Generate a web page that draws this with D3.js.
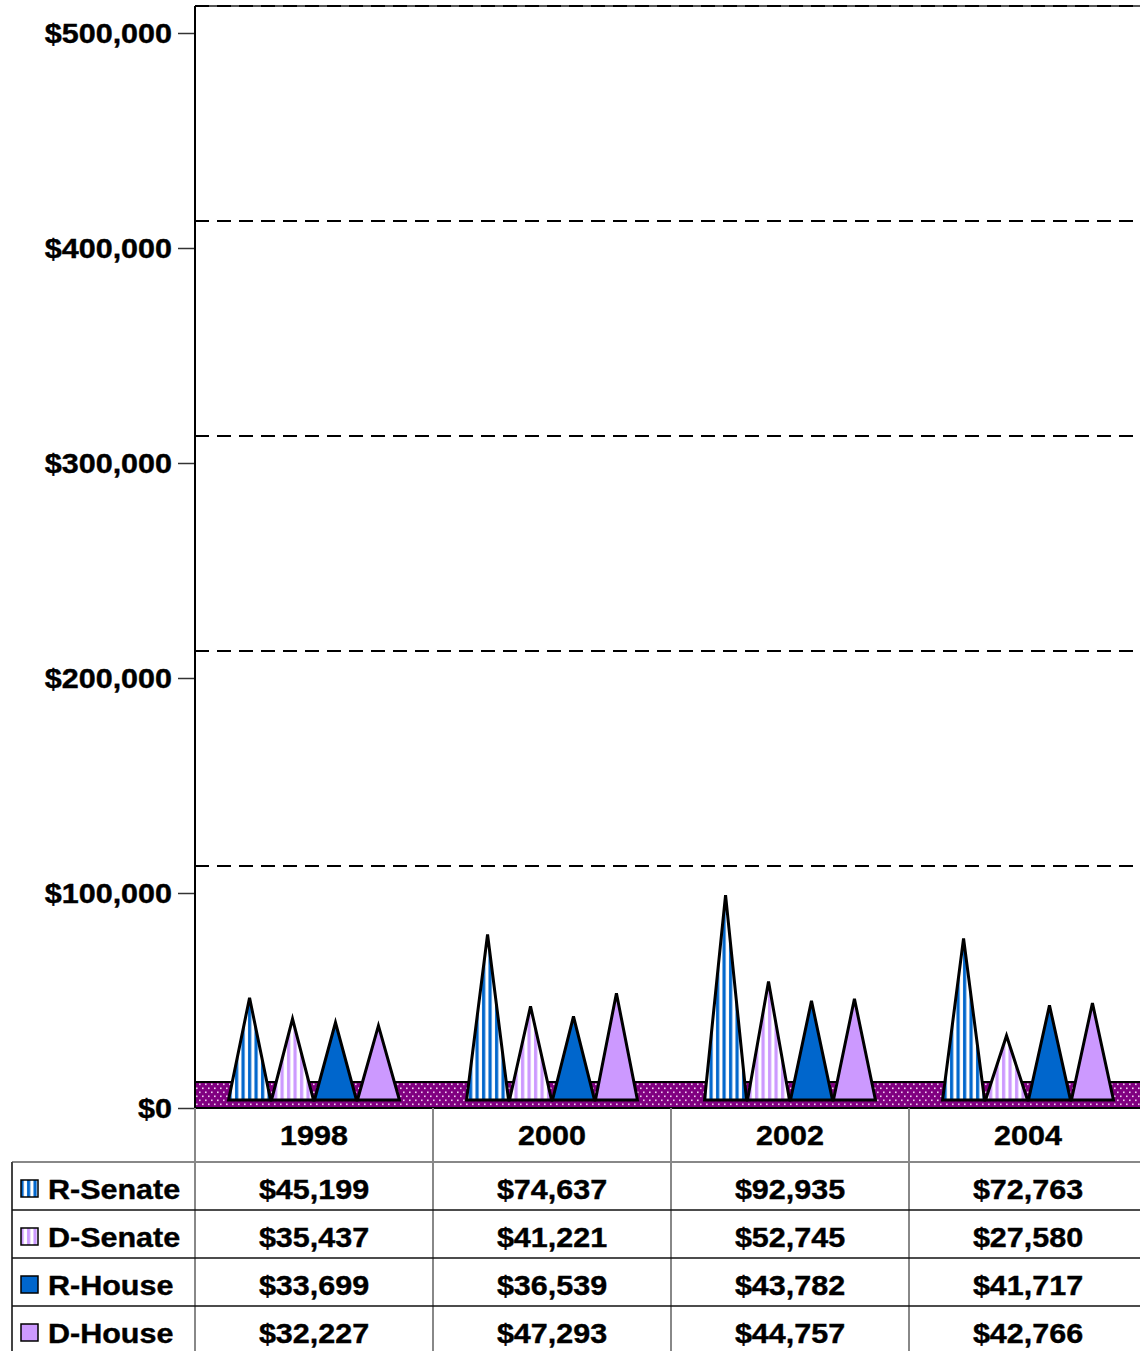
<!DOCTYPE html>
<html>
<head>
<meta charset="utf-8">
<script src="https://cdn.jsdelivr.net/npm/d3@7"></script>
<style>
  body { margin: 0; background: #fff; }
  text { font-family: "Liberation Sans", Arial, sans-serif; font-weight: bold; fill: #000; stroke: #000; stroke-width: 0.4px; }
</style>
</head>
<body>
<div id="chart"></div>
<script>
var years = ["1998", "2000", "2002", "2004"];
var seriesNames = ["R-Senate", "D-Senate", "R-House", "D-House"];
var rSenate = [45199, 74637, 92935, 72763];
var dSenate = [35437, 41221, 52745, 27580];
var rHouse = [33699, 36539, 43782, 41717];
var dHouse = [32227, 47293, 44757, 42766];
var yTicks = [0, 100000, 200000, 300000, 400000, 500000];

var seriesValues = [rSenate, dSenate, rHouse, dHouse];
var fills = ["url(#stripeBlue)", "url(#stripeLav)", "#0066cc", "#cc99ff"];

var width = 1140, height = 1351;
var plotLeft = 195, plotTop = 6;
var depth = 27; // 3d wall offset
var floorY = 1108;
var colW = 238;
var xScale = d3.scaleBand()
    .domain(years)
    .range([plotLeft, plotLeft + colW * years.length]);

var inner = d3.scaleBand()
    .domain(seriesNames)
    .range([0, colW])
    .paddingInner(0)
    .paddingOuter(0.77);

var yScale = d3.scaleLinear()
    .domain([0, 500000])
    .range([floorY, 33]);

var fmt = d3.format("$,");
var sx = 1.09; // text is a bit wider than normal

var svg = d3.select("#chart").append("svg")
    .attr("width", width)
    .attr("height", height);

var defs = svg.append("defs");

function stripes(id, color) {
  var p = defs.append("pattern")
      .attr("id", id)
      .attr("patternUnits", "userSpaceOnUse")
      .attr("width", 6.5)
      .attr("height", 10);
  p.append("rect").attr("width", 6.5).attr("height", 10).attr("fill", "#fff");
  p.append("rect").attr("x", 1).attr("width", 3.2).attr("height", 10).attr("fill", color);
}
stripes("stripeBlue", "#0066cc");
stripes("stripeLav", "#cc99ff");

var dots = defs.append("pattern")
    .attr("id", "floorDots")
    .attr("patternUnits", "userSpaceOnUse")
    .attr("width", 6)
    .attr("height", 8)
    .attr("y", 1082);
dots.append("rect").attr("width", 6).attr("height", 8).attr("fill", "#800080");
dots.append("rect").attr("x", 1).attr("y", 1.5).attr("width", 1.6).attr("height", 1.6).attr("fill", "#f0d0f0");
dots.append("rect").attr("x", 4).attr("y", 5.5).attr("width", 1.6).attr("height", 1.6).attr("fill", "#f0d0f0");

function addText(g, x, y, str, anchor) {
  return g.append("text")
      .attr("transform", "translate(" + x + "," + y + ") scale(" + sx + ",1)")
      .attr("text-anchor", anchor)
      .attr("dy", "0.36em")
      .style("font-size", "28px")
      .text(str);
}

// back wall gridlines
svg.append("line")
    .attr("x1", plotLeft).attr("x2", width)
    .attr("y1", plotTop).attr("y2", plotTop)
    .attr("stroke", "#555").attr("stroke-width", 2);
svg.selectAll(".grid")
    .data(yTicks.slice(1))
  .enter().append("line")
    .attr("class", "grid")
    .attr("x1", plotLeft).attr("x2", width)
    .attr("y1", function(d) { return yScale(d) - depth; })
    .attr("y2", function(d) { return yScale(d) - depth; })
    .attr("stroke", "#000")
    .attr("stroke-width", 2)
    .attr("stroke-dasharray", "14,8");

// floor
svg.append("rect")
    .attr("x", plotLeft + 1)
    .attr("y", floorY - depth + 1)
    .attr("width", width - plotLeft)
    .attr("height", depth - 1)
    .attr("fill", "url(#floorDots)");
svg.append("line")
    .attr("x1", plotLeft).attr("x2", width)
    .attr("y1", floorY - depth + 1).attr("y2", floorY - depth + 1)
    .attr("stroke", "#000").attr("stroke-width", 2);
svg.append("line")
    .attr("x1", plotLeft).attr("x2", width)
    .attr("y1", floorY).attr("y2", floorY)
    .attr("stroke", "#000").attr("stroke-width", 2);

// cones
var coneBase = floorY - 8;
var coneOffset = 13;
var half = 21;
years.forEach(function(yr, i) {
  var g = svg.append("g");
  seriesNames.forEach(function(s, j) {
    var cx = xScale(yr) + inner(s) + inner.bandwidth() / 2;
    var top = yScale(seriesValues[j][i]) - coneOffset;
    g.append("path")
        .attr("d", "M" + (cx - half) + "," + coneBase + "L" + cx + "," + top + "L" + (cx + half) + "," + coneBase + "Z")
        .attr("fill", fills[j])
        .attr("stroke", "#000")
        .attr("stroke-width", 3)
        .attr("stroke-linejoin", "miter");
  });
});

// y axis
var yAxis = svg.append("g")
    .attr("transform", "translate(" + plotLeft + ",0)")
    .call(d3.axisLeft(yScale).tickValues(yTicks).tickSize(17).tickFormat(fmt));
yAxis.select(".domain").remove();
yAxis.selectAll(".tick line").attr("stroke", "#333").attr("stroke-width", 1.5);
yAxis.selectAll(".tick text").remove();
yTicks.forEach(function(t) {
  addText(svg, 172, yScale(t), fmt(t), "end");
});
svg.append("line")
    .attr("x1", plotLeft).attr("x2", plotLeft)
    .attr("y1", plotTop).attr("y2", floorY)
    .attr("stroke", "#000").attr("stroke-width", 2);

// data table
var rowTop = 1162, rowH = 48;
var grey = "#888";
svg.append("line")
    .attr("x1", plotLeft).attr("x2", plotLeft)
    .attr("y1", floorY).attr("y2", height)
    .attr("stroke", grey).attr("stroke-width", 2);
years.forEach(function(yr) {
  var x0 = xScale(yr) + colW;
  svg.append("line")
      .attr("x1", x0).attr("x2", x0)
      .attr("y1", floorY).attr("y2", height)
      .attr("stroke", grey).attr("stroke-width", 2);
  addText(svg, xScale(yr) + colW / 2, 1135, yr, "middle");
});
svg.append("line")
    .attr("x1", 12).attr("x2", width)
    .attr("y1", rowTop).attr("y2", rowTop)
    .attr("stroke", grey).attr("stroke-width", 2);
svg.append("line")
    .attr("x1", 12).attr("x2", 12)
    .attr("y1", rowTop).attr("y2", height)
    .attr("stroke", "#444").attr("stroke-width", 2);

seriesNames.forEach(function(s, j) {
  var yTop = rowTop + j * rowH;
  var cy = yTop + rowH / 2 + 3;
  if (j > 0) {
    svg.append("line")
        .attr("x1", 12).attr("x2", width)
        .attr("y1", yTop).attr("y2", yTop)
        .attr("stroke", "#111").attr("stroke-width", 1.5);
  }
  svg.append("rect")
      .attr("x", 21).attr("y", cy - 9)
      .attr("width", 17).attr("height", 17)
      .attr("fill", fills[j])
      .attr("stroke", "#000").attr("stroke-width", 1.5);
  addText(svg, 48, cy, s, "start");
  years.forEach(function(yr, i) {
    addText(svg, xScale(yr) + colW / 2, cy, fmt(seriesValues[j][i]), "middle");
  });
});
</script>
</body>
</html>
